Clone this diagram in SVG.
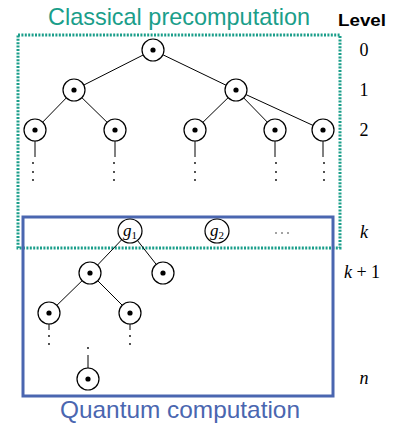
<svg xmlns="http://www.w3.org/2000/svg" width="394" height="424" viewBox="0 0 394 424">
<style>
.n circle.o{fill:#fff;stroke:#000;stroke-width:1.2}
.n circle.d{fill:#000}
.e line{stroke:#000;stroke-width:1}
.dots circle{fill:#000}
.lv{font-family:"Liberation Serif","DejaVu Serif",serif;font-size:18px;fill:#000}
.mi{font-family:"Liberation Serif","DejaVu Serif",serif;font-style:italic}
.ttl{font-family:"Liberation Sans","Open Sans",sans-serif;font-size:24px}
</style>
<rect width="394" height="424" fill="#fff"/>
<text class="ttl" x="48" y="25" fill="#1a9e8a" textLength="262" lengthAdjust="spacingAndGlyphs">Classical precomputation</text>
<text class="ttl" x="60" y="418" fill="#4a66b0" textLength="240" lengthAdjust="spacingAndGlyphs">Quantum computation</text>
<text x="338" y="26" font-family="Liberation Sans, sans-serif" font-size="17" font-weight="bold" fill="#000" textLength="48" lengthAdjust="spacingAndGlyphs">Level</text>
<g id="levels">
<text class="lv" x="364" y="56" text-anchor="middle">0</text>
<text class="lv" x="364" y="96" text-anchor="middle">1</text>
<text class="lv" x="364" y="136" text-anchor="middle">2</text>
<text class="lv mi" x="364" y="238" text-anchor="middle">k</text>
<text class="lv" x="362" y="278" text-anchor="middle"><tspan class="mi">k</tspan> + 1</text>
<text class="lv mi" x="364" y="384" text-anchor="middle">n</text>
</g>
<rect id="classical" x="18" y="35" width="322" height="213" fill="none" stroke="#1a9e8a" stroke-width="3" stroke-dasharray="2 1.4"/>
<rect id="quantum" x="23" y="217" width="310" height="179" fill="none" stroke="#4a66b0" stroke-width="3"/>
<g id="edges" class="e">
<line x1="153" y1="50" x2="74" y2="90"/>
<line x1="153" y1="50" x2="236" y2="90"/>
<line x1="74" y1="90" x2="35" y2="130"/>
<line x1="74" y1="90" x2="115" y2="130"/>
<line x1="236" y1="90" x2="195" y2="130"/>
<line x1="236" y1="90" x2="275" y2="130"/>
<line x1="236" y1="90" x2="323" y2="130"/>
<line x1="35" y1="130" x2="35" y2="157"/>
<line x1="115" y1="130" x2="115" y2="157"/>
<line x1="195" y1="130" x2="195" y2="157"/>
<line x1="275" y1="130" x2="275" y2="157"/>
<line x1="323" y1="130" x2="323" y2="157"/>
<line x1="130" y1="231" x2="90" y2="273"/>
<line x1="130" y1="231" x2="163" y2="273"/>
<line x1="90" y1="273" x2="49" y2="313"/>
<line x1="90" y1="273" x2="130" y2="313"/>
<line x1="49" y1="313" x2="49" y2="330"/>
<line x1="130" y1="313" x2="130" y2="330"/>
<line x1="88" y1="355" x2="88" y2="379"/>
</g>
<g class="dots">
<circle cx="33" cy="163" r="0.9"/><circle cx="33" cy="172" r="0.9"/><circle cx="33" cy="180" r="0.9"/>
<circle cx="114" cy="163" r="0.9"/><circle cx="114" cy="172" r="0.9"/><circle cx="114" cy="180" r="0.9"/>
<circle cx="195" cy="163" r="0.9"/><circle cx="195" cy="172" r="0.9"/><circle cx="195" cy="180" r="0.9"/>
<circle cx="276" cy="163" r="0.9"/><circle cx="276" cy="172" r="0.9"/><circle cx="276" cy="180" r="0.9"/>
<circle cx="324" cy="163" r="0.9"/><circle cx="324" cy="172" r="0.9"/><circle cx="324" cy="180" r="0.9"/>
<circle cx="49" cy="336" r="0.9"/><circle cx="49" cy="344" r="0.9"/>
<circle cx="130" cy="336" r="0.9"/><circle cx="130" cy="344" r="0.9"/>
<circle cx="88" cy="348" r="0.9"/>
<circle cx="276" cy="233" r="0.7"/><circle cx="282" cy="233" r="0.7"/><circle cx="288" cy="233" r="0.7"/>
</g>
<g id="n0" class="n"><circle class="o" cx="153" cy="50" r="11"/><circle class="d" cx="153" cy="50" r="2.6"/></g>
<g id="n1a" class="n"><circle class="o" cx="74" cy="90" r="11"/><circle class="d" cx="74" cy="90" r="2.6"/></g>
<g id="n1b" class="n"><circle class="o" cx="236" cy="90" r="11"/><circle class="d" cx="236" cy="90" r="2.6"/></g>
<g id="n2a" class="n"><circle class="o" cx="35" cy="130" r="11"/><circle class="d" cx="35" cy="130" r="2.6"/></g>
<g id="n2b" class="n"><circle class="o" cx="115" cy="130" r="11"/><circle class="d" cx="115" cy="130" r="2.6"/></g>
<g id="n2c" class="n"><circle class="o" cx="195" cy="130" r="11"/><circle class="d" cx="195" cy="130" r="2.6"/></g>
<g id="n2d" class="n"><circle class="o" cx="275" cy="130" r="11"/><circle class="d" cx="275" cy="130" r="2.6"/></g>
<g id="n2e" class="n"><circle class="o" cx="323" cy="130" r="11"/><circle class="d" cx="323" cy="130" r="2.6"/></g>
<g id="g1" class="n"><circle class="o" cx="130" cy="231" r="12"/><text x="130" y="236" text-anchor="middle" font-family="Liberation Serif, serif" font-size="17"><tspan font-style="italic">g</tspan><tspan font-size="11" dy="3">1</tspan></text></g>
<g id="g2" class="n"><circle class="o" cx="217" cy="231" r="12"/><text x="217" y="236" text-anchor="middle" font-family="Liberation Serif, serif" font-size="17"><tspan font-style="italic">g</tspan><tspan font-size="11" dy="3">2</tspan></text></g>
<g id="n3a" class="n"><circle class="o" cx="90" cy="273" r="11"/><circle class="d" cx="90" cy="273" r="2.6"/></g>
<g id="n3b" class="n"><circle class="o" cx="163" cy="273" r="11"/><circle class="d" cx="163" cy="273" r="2.6"/></g>
<g id="n4a" class="n"><circle class="o" cx="49" cy="313" r="11"/><circle class="d" cx="49" cy="313" r="2.6"/></g>
<g id="n4b" class="n"><circle class="o" cx="130" cy="313" r="11"/><circle class="d" cx="130" cy="313" r="2.6"/></g>
<g id="nn" class="n"><circle class="o" cx="88" cy="379" r="11"/><circle class="d" cx="88" cy="379" r="2.6"/></g>
</svg>
